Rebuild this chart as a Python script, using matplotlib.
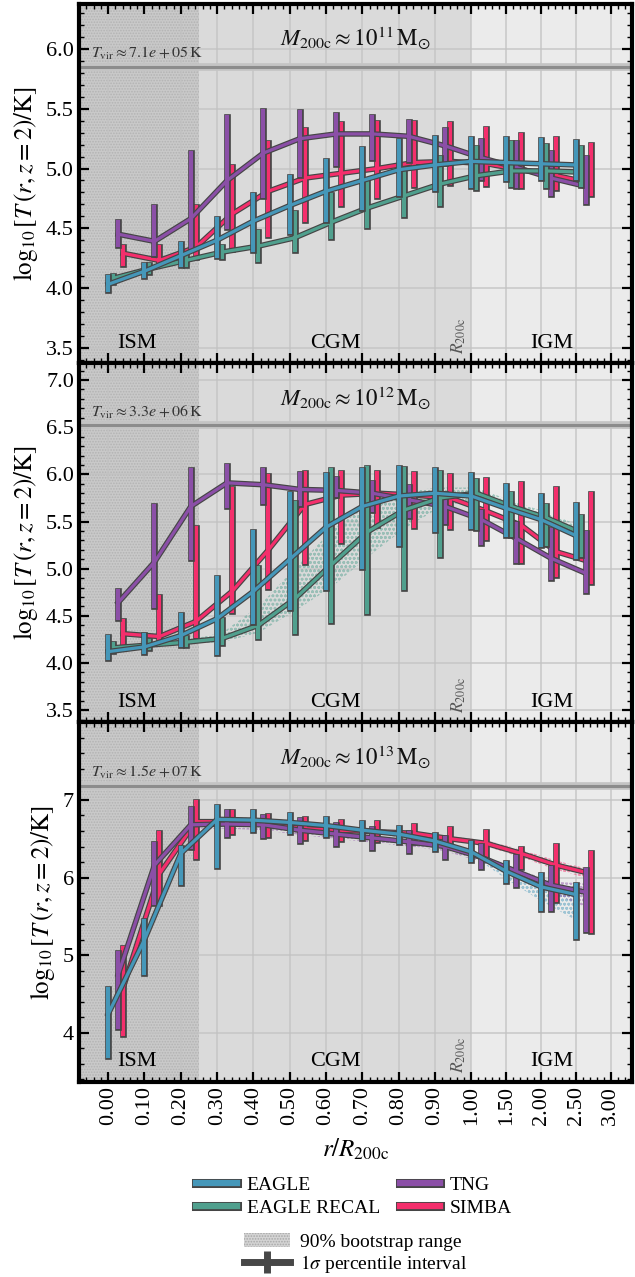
import numpy as np
import matplotlib.pyplot as plt
import matplotlib.transforms as mtransforms
import matplotlib.patheffects as pe
from matplotlib.lines import Line2D
from matplotlib.patches import Patch

plt.rcParams['font.family'] = ['Liberation Serif', 'DejaVu Serif']
plt.rcParams['mathtext.fontset'] = 'stix'
plt.rcParams['hatch.linewidth'] = 0.8

# radial bins (r / R200c)
r_bins = [0.0, 0.1, 0.2, 0.3, 0.4, 0.5, 0.6, 0.7, 0.8, 0.9, 1.0, 1.5, 2.0, 2.5]
tick_r = [0.0, 0.1, 0.2, 0.3, 0.4, 0.5, 0.6, 0.7, 0.8, 0.9, 1.0, 1.5, 2.0, 2.5, 3.0]
tick_labels = ['0.00', '0.10', '0.20', '0.30', '0.40', '0.50', '0.60', '0.70',
               '0.80', '0.90', '1.00', '1.50', '2.00', '2.50', '3.00']

sims = ['EAGLE', 'EAGLE RECAL', 'TNG', 'SIMBA']
colors = ['#4597b9', '#50a08e', '#8b4fa7', '#f42f6c']
EDGE = '#454545'

mass_labels = [r'$M_{\rm 200c} \approx 10^{11}\,{\rm M}_{\odot}$',
               r'$M_{\rm 200c} \approx 10^{12}\,{\rm M}_{\odot}$',
               r'$M_{\rm 200c} \approx 10^{13}\,{\rm M}_{\odot}$']
tvir = [7.1e5, 3.3e6, 1.5e7]
tvir_labels = ['7.1e+05', '3.3e+06', '1.5e+07']

# ---- M200c ~ 1e11 ----
eagle_11 = [4.03, 4.14, 4.27, 4.40, 4.56, 4.69, 4.81, 4.90, 4.99, 5.03, 5.06, 5.05, 5.04, 5.03]
eagle_11_lo = [3.98, 4.10, 4.19, 4.27, 4.32, 4.47, 4.57, 4.67, 4.79, 4.83, 4.85, 4.91, 4.92, 4.92]
eagle_11_hi = [4.09, 4.19, 4.37, 4.58, 4.78, 4.93, 5.06, 5.16, 5.23, 5.26, 5.25, 5.25, 5.24, 5.22]
recal_11 = [4.08, 4.16, 4.23, 4.30, 4.35, 4.42, 4.55, 4.67, 4.77, 4.87, 4.94, 4.98, 4.98, 4.97]
recal_11_lo = [4.05, 4.13, 4.19, 4.26, 4.23, 4.32, 4.43, 4.52, 4.61, 4.70, 4.84, 4.86, 4.85, 4.86]
recal_11_hi = [4.10, 4.19, 4.27, 4.34, 4.47, 4.63, 4.78, 4.90, 4.99, 5.09, 5.17, 5.21, 5.19, 5.17]
tng_11 = [4.45, 4.39, 4.58, 4.90, 5.13, 5.25, 5.29, 5.29, 5.27, 5.19, 5.09, 5.01, 4.92, 4.85]
tng_11_lo = [4.36, 4.28, 4.34, 4.51, 4.77, 4.95, 5.04, 5.09, 5.07, 5.05, 4.92, 4.85, 4.79, 4.72]
tng_11_hi = [4.55, 4.68, 5.13, 5.43, 5.48, 5.47, 5.45, 5.43, 5.39, 5.32, 5.23, 5.21, 5.13, 5.09]
simba_11 = [4.29, 4.23, 4.34, 4.62, 4.81, 4.92, 4.96, 5.00, 5.05, 5.06, 5.04, 4.99, 4.94, 4.88]
simba_11_lo = [4.20, 4.20, 4.26, 4.33, 4.44, 4.57, 4.70, 4.77, 4.86, 4.88, 4.87, 4.85, 4.84, 4.79]
simba_11_hi = [4.34, 4.34, 4.68, 5.01, 5.21, 5.32, 5.37, 5.38, 5.38, 5.37, 5.33, 5.28, 5.25, 5.20]

# ---- M200c ~ 1e12 ----
eagle_12 = [4.12, 4.17, 4.29, 4.47, 4.76, 5.10, 5.44, 5.66, 5.77, 5.80, 5.77, 5.64, 5.52, 5.35]
eagle_12_lo = [4.05, 4.12, 4.19, 4.11, 4.43, 4.58, 4.79, 5.02, 5.26, 5.41, 5.44, 5.36, 5.25, 5.12]
eagle_12_hi = [4.27, 4.30, 4.51, 4.90, 5.39, 5.79, 5.99, 6.05, 6.07, 6.05, 5.99, 5.88, 5.77, 5.67]
recal_12 = [4.16, 4.19, 4.22, 4.26, 4.40, 4.68, 5.04, 5.39, 5.62, 5.75, 5.80, 5.66, 5.54, 5.38]
recal_12_lo = [4.13, 4.16, 4.19, 4.21, 4.27, 4.33, 4.44, 4.54, 4.79, 5.15, 5.43, 5.36, 5.26, 5.15]
recal_12_hi = [4.20, 4.23, 4.26, 4.46, 5.01, 5.70, 6.05, 6.07, 6.06, 6.01, 5.93, 5.79, 5.66, 5.55]
recal_12_blo = [4.14, 4.17, 4.20, 4.22, 4.32, 4.55, 4.80, 5.12, 5.42, 5.65, 5.74, 5.60, 5.48, 5.30]
recal_12_bhi = [4.18, 4.21, 4.24, 4.32, 4.60, 5.00, 5.40, 5.68, 5.82, 5.86, 5.86, 5.72, 5.60, 5.45]
tng_12 = [4.64, 5.07, 5.66, 5.91, 5.89, 5.84, 5.83, 5.80, 5.73, 5.66, 5.52, 5.32, 5.11, 4.95]
tng_12_lo = [4.48, 4.60, 5.11, 5.66, 5.71, 5.69, 5.78, 5.62, 5.56, 5.50, 5.27, 5.08, 4.90, 4.76]
tng_12_hi = [4.76, 5.66, 6.05, 6.09, 6.05, 6.00, 5.95, 5.91, 5.87, 5.79, 5.60, 5.47, 5.41, 5.38]
simba_12 = [4.31, 4.28, 4.44, 4.76, 5.20, 5.68, 5.78, 5.80, 5.78, 5.75, 5.61, 5.46, 5.18, 5.07]
simba_12_lo = [4.19, 4.26, 4.29, 4.55, 4.81, 5.07, 5.29, 5.46, 5.45, 5.44, 5.32, 5.08, 4.93, 4.86]
simba_12_hi = [4.44, 4.70, 5.43, 5.85, 5.98, 6.01, 6.01, 6.01, 6.00, 5.98, 5.94, 5.90, 5.85, 5.79]

# ---- M200c ~ 1e13 (no EAGLE RECAL) ----
eagle_13 = [4.24, 5.20, 6.31, 6.75, 6.74, 6.71, 6.67, 6.61, 6.56, 6.47, 6.33, 6.08, 5.88, 5.78]
eagle_13_lo = [3.70, 4.77, 5.93, 6.15, 6.61, 6.59, 6.55, 6.51, 6.46, 6.37, 6.22, 5.95, 5.59, 5.23]
eagle_13_hi = [4.56, 5.44, 6.38, 6.91, 6.85, 6.80, 6.75, 6.70, 6.64, 6.55, 6.45, 6.19, 6.03, 5.91]
eagle_13_blo = [4.20, 5.15, 6.27, 6.71, 6.70, 6.67, 6.63, 6.57, 6.52, 6.43, 6.29, 5.98, 5.70, 5.45]
eagle_13_bhi = [4.28, 5.25, 6.35, 6.78, 6.77, 6.74, 6.70, 6.64, 6.59, 6.50, 6.36, 6.10, 5.90, 5.80]
tng_13 = [4.75, 6.16, 6.68, 6.69, 6.68, 6.61, 6.56, 6.51, 6.46, 6.40, 6.26, 6.08, 5.90, 5.81]
tng_13_lo = [4.08, 5.67, 6.40, 6.55, 6.53, 6.47, 6.43, 6.38, 6.34, 6.27, 6.13, 5.91, 5.60, 5.32]
tng_13_hi = [5.03, 6.43, 6.88, 6.84, 6.78, 6.74, 6.68, 6.62, 6.57, 6.51, 6.41, 6.26, 6.12, 6.10]
tng_13_blo = [4.70, 6.10, 6.63, 6.63, 6.61, 6.55, 6.50, 6.45, 6.40, 6.34, 6.20, 6.00, 5.80, 5.62]
tng_13_bhi = [4.80, 6.20, 6.71, 6.71, 6.70, 6.63, 6.58, 6.53, 6.48, 6.42, 6.29, 6.12, 5.95, 5.92]
simba_13 = [4.58, 6.05, 6.72, 6.72, 6.68, 6.63, 6.61, 6.59, 6.57, 6.50, 6.44, 6.31, 6.16, 6.05]
simba_13_lo = [3.99, 5.67, 6.27, 6.59, 6.55, 6.51, 6.50, 6.48, 6.46, 6.42, 6.29, 6.14, 5.71, 5.31]
simba_13_hi = [5.09, 6.57, 6.97, 6.84, 6.79, 6.75, 6.72, 6.70, 6.67, 6.63, 6.59, 6.37, 6.41, 6.32]
simba_13_blo = [4.52, 6.00, 6.68, 6.69, 6.65, 6.60, 6.58, 6.56, 6.54, 6.47, 6.40, 6.26, 6.10, 5.98]
simba_13_bhi = [4.64, 6.10, 6.76, 6.75, 6.71, 6.66, 6.64, 6.62, 6.60, 6.53, 6.48, 6.36, 6.22, 6.10]

panels = [
    [(eagle_11, eagle_11_lo, eagle_11_hi, None),
     (recal_11, recal_11_lo, recal_11_hi, None),
     (tng_11, tng_11_lo, tng_11_hi, None),
     (simba_11, simba_11_lo, simba_11_hi, None)],
    [(eagle_12, eagle_12_lo, eagle_12_hi, None),
     (recal_12, recal_12_lo, recal_12_hi, (recal_12_blo, recal_12_bhi)),
     (tng_12, tng_12_lo, tng_12_hi, None),
     (simba_12, simba_12_lo, simba_12_hi, None)],
    [(eagle_13, eagle_13_lo, eagle_13_hi, (eagle_13_blo, eagle_13_bhi)),
     None,
     (tng_13, tng_13_lo, tng_13_hi, (tng_13_blo, tng_13_bhi)),
     (simba_13, simba_13_lo, simba_13_hi, (simba_13_blo, simba_13_bhi))],
]
ylims = [(3.37, 6.38), (3.37, 7.18), (3.37, 8.0)]
yticks = [[3.5, 4.0, 4.5, 5.0, 5.5, 6.0],
          [3.5, 4.0, 4.5, 5.0, 5.5, 6.0, 6.5, 7.0],
          [4, 5, 6, 7]]
yminor = [0.1, 0.1, 0.2]


# piecewise x axis: linear inside R200c, compressed outside
def fwd(r):
    r = np.asarray(r, dtype=float)
    return np.where(r <= 1, 10 * r, 10 + (r - 1) * 1.92)


def inv(t):
    t = np.asarray(t, dtype=float)
    return np.where(t <= 10, t / 10, 1 + (t - 10) / 1.92)


fig, axes = plt.subplots(3, 1, figsize=(6.35, 12.77), dpi=100, sharex=True)
fig.subplots_adjust(left=0.124, right=0.995, top=0.997, bottom=0.153, hspace=0)

dodge = [0, 3.6, 7.2, 10.8]       # points
zorders = [8, 7, 6, 5]
xmin, xmax = -0.081, 3.30

for p, ax in enumerate(axes):
    ax.set_xscale('function', functions=(fwd, inv))
    ax.axvspan(-1, 0.25, facecolor='#c9c9c9', edgecolor='#b3b3b3', hatch='......', lw=0, zorder=0.1)
    ax.axvspan(0.25, 1.0, facecolor='#dadada', lw=0, zorder=0.1)
    ax.axvspan(1.0, 5, facecolor='#ebebeb', lw=0, zorder=0.1)
    ax.set_axisbelow(True)
    ax.grid(True, which='major', color='#c2c2c2', lw=1.2, alpha=0.8)

    lt = np.log10(tvir[p])
    ax.axhline(lt, color='#c4c4c4', lw=5.5, zorder=1)
    ax.axhline(lt, color='#8c8c8c', lw=2.2, zorder=1.1)
    ax.annotate(r'$T_{\rm vir} \approx ' + tvir_labels[p] + r'\,{\rm K}$',
                xy=(0.022, lt), xycoords=('axes fraction', 'data'),
                xytext=(0, 3.5), textcoords='offset points',
                fontsize=11.5, color='#333333', va='bottom', ha='left')
    ax.text(0.5, 0.905, mass_labels[p], transform=ax.transAxes, fontsize=16.5,
            ha='center', va='center', color='#111111')

    ax.text(0.08, 0.055, 'ISM', transform=ax.get_xaxis_transform(), fontsize=16,
            ha='center', va='center')
    ax.text(0.625, 0.055, 'CGM', transform=ax.get_xaxis_transform(), fontsize=16,
            ha='center', va='center')
    ax.text(2.15, 0.055, 'IGM', transform=ax.get_xaxis_transform(), fontsize=16,
            ha='center', va='center')
    ax.text(0.965, 0.025, r'$R_{\rm 200c}$', transform=ax.get_xaxis_transform(),
            fontsize=12.5, rotation=90, ha='center', va='bottom', color='#555555')

    for s in range(4):
        entry = panels[p][s]
        if entry is None:
            continue
        med, lo, hi, boot = entry
        tr = ax.transData + mtransforms.ScaledTranslation(dodge[s] / 72, 0, fig.dpi_scale_trans)
        if boot is not None:
            ax.fill_between(r_bins, boot[0], boot[1], transform=tr, facecolor='none',
                            edgecolor=colors[s], hatch='oooo', lw=0, alpha=0.45, zorder=2)
        z = zorders[s]
        ax.vlines(r_bins, lo, hi, colors=EDGE, lw=4.8, capstyle='projecting',
                  transform=tr, zorder=z)
        ax.plot(r_bins, med, color=EDGE, lw=4.0, transform=tr, zorder=z,
                solid_joinstyle='round', solid_capstyle='projecting')
        ax.vlines(r_bins, lo, hi, colors=colors[s], lw=3.0, capstyle='projecting',
                  transform=tr, zorder=z + 0.1)
        ax.plot(r_bins, med, color=colors[s], lw=2.3, transform=tr, zorder=z + 0.1,
                solid_joinstyle='round', solid_capstyle='projecting')

    ax.set_ylim(*ylims[p])
    ax.set_yticks(yticks[p])
    if p < 2:
        ax.set_yticklabels(['%.1f' % v for v in yticks[p]])
    else:
        ax.set_yticklabels(['%d' % v for v in yticks[p]])
    ax.set_yticks(np.arange(3.4, ylims[p][1], yminor[p]), minor=True)
    ax.set_ylabel(r'$\log_{10}[T\,(r, z=2)/{\rm K}]$', fontsize=18)

    ax.tick_params(which='both', direction='in', top=True, right=True, labelsize=16)
    ax.tick_params(which='major', length=7, width=1.6)
    ax.tick_params(which='minor', length=3.5, width=1.0)
    for sp in ax.spines.values():
        sp.set_linewidth(3)
        sp.set_zorder(20)

minor_r = list(np.arange(-0.08, 1.0, 0.02)) + list(np.arange(1.1, 3.3, 0.1))
ax = axes[-1]
ax.set_xticks(tick_r)
ax.set_xticklabels(tick_labels, rotation=90)
ax.set_xticks(minor_r, minor=True)
ax.xaxis.set_minor_formatter(plt.NullFormatter())
ax.set_xlim(xmin, xmax)
ax.set_xlabel(r'$r/R_{\rm 200c}$', fontsize=18, labelpad=8)

handles = [Line2D([], [], color=c, lw=4.5,
                  path_effects=[pe.Stroke(linewidth=6.5, foreground=EDGE), pe.Normal()])
           for c in colors]
fig.legend(handles, sims, ncol=2, loc='center', bbox_to_anchor=(0.558, 0.063),
           frameon=False, fontsize=14, handlelength=2.1, columnspacing=1.0,
           labelspacing=0.25, handletextpad=0.5)

boot_h = Patch(facecolor='#d4d4d4', edgecolor='#a8a8a8', hatch='......', lw=0)
sig_h = Line2D([], [], color='#474747', lw=5, marker='|', markersize=16, mew=5)
fig.legend([boot_h, sig_h], ['90% bootstrap range', r'$1\sigma$ percentile interval'],
           loc='center', bbox_to_anchor=(0.56, 0.018), frameon=False, fontsize=14,
           handlelength=2.4, labelspacing=0.1, handletextpad=0.5)

fig.savefig('out.png', dpi=100)
